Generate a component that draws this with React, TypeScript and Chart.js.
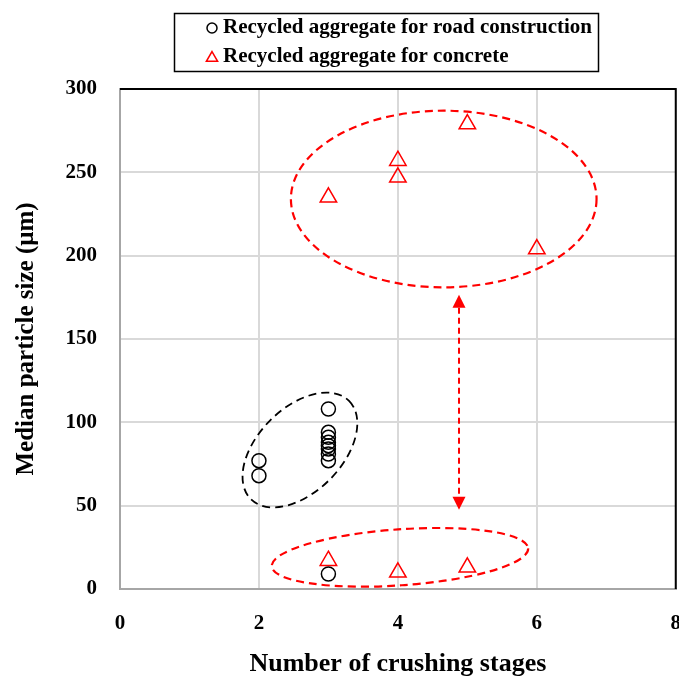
import React, { useEffect, useRef } from "react";
import { Chart, registerables } from "chart.js";

Chart.register(...registerables);

// ---- data ----
const xTickValues = [0, 2, 4, 6, 8];
const yTickValues = [0, 50, 100, 150, 200, 250, 300];

const roadStages = [2, 2, 3, 3, 3, 3, 3, 3, 3, 3, 3];
const roadSizes = [77, 68, 108, 94, 91, 88, 86, 84, 81, 77, 9];

const concreteStages = [3, 4, 4, 5, 6, 3, 4, 5];
const concreteSizes = [235, 257, 247, 279, 204, 17, 10, 13];

const seriesLabels = [
  "Recycled aggregate for road construction",
  "Recycled aggregate for concrete",
];
const xTitle = "Number of crushing stages";
const yTitle = "Median particle size (μm)";

// group outlines (data units: centre x/y, half-axes in x-units / y-units, rotation deg)
const groupCx = [4.66, 4.03, 2.59];
const groupCy = [234, 19, 83.4];
const groupRx = [2.2, 1.85, 1.0];
const groupRy = [53, 16.8, 25.2];
const groupRot = [0, -4, -45];
const groupColor = ["#ff0000", "#ff0000", "#000000"];

// double arrow between the two concrete groups
const arrowStage = 4.88;
const arrowLow = 47.5;
const arrowHigh = 176.5;

const FONT = "'Liberation Serif', 'Times New Roman', serif";

const overlayPlugin = {
  id: "overlay",
  afterDatasetsDraw(chart: any) {
    const { ctx } = chart;
    const xs = chart.scales.x;
    const ys = chart.scales.y;
    const ppx = xs.getPixelForValue(1) - xs.getPixelForValue(0);
    const ppy = ys.getPixelForValue(0) - ys.getPixelForValue(1);
    for (let i = 0; i < groupCx.length; i++) {
      ctx.save();
      ctx.beginPath();
      ctx.ellipse(
        xs.getPixelForValue(groupCx[i]),
        ys.getPixelForValue(groupCy[i]),
        groupRx[i] * ppx,
        groupRy[i] * ppy,
        (groupRot[i] * Math.PI) / 180,
        0,
        Math.PI * 2
      );
      ctx.strokeStyle = groupColor[i];
      ctx.lineWidth = groupColor[i] === "#000000" ? 1.8 : 2.2;
      ctx.setLineDash([8, 5]);
      ctx.stroke();
      ctx.restore();
    }
    // arrow
    const ax = xs.getPixelForValue(arrowStage);
    const yTop = ys.getPixelForValue(arrowHigh);
    const yBot = ys.getPixelForValue(arrowLow);
    const hh = 13;
    const hw = 6.5;
    ctx.save();
    ctx.strokeStyle = "#ff0000";
    ctx.fillStyle = "#ff0000";
    ctx.lineWidth = 2;
    ctx.setLineDash([6, 4]);
    ctx.beginPath();
    ctx.moveTo(ax, yTop + hh);
    ctx.lineTo(ax, yBot - hh);
    ctx.stroke();
    ctx.setLineDash([]);
    ctx.beginPath();
    ctx.moveTo(ax, yTop);
    ctx.lineTo(ax - hw, yTop + hh);
    ctx.lineTo(ax + hw, yTop + hh);
    ctx.closePath();
    ctx.fill();
    ctx.beginPath();
    ctx.moveTo(ax, yBot);
    ctx.lineTo(ax - hw, yBot - hh);
    ctx.lineTo(ax + hw, yBot - hh);
    ctx.closePath();
    ctx.fill();
    ctx.restore();
  },
  afterDraw(chart: any) {
    const { ctx, chartArea } = chart;
    const { left, right, top, bottom } = chartArea;
    ctx.save();
    // top & right frame in black
    ctx.strokeStyle = "#000";
    ctx.lineWidth = 2;
    ctx.beginPath();
    ctx.moveTo(left, top);
    ctx.lineTo(right, top);
    ctx.lineTo(right, bottom);
    ctx.stroke();
    ctx.restore();

    // legend box
    const bx = 174.5;
    const by = 13.5;
    const bw = 424;
    const bh = 58;
    ctx.save();
    ctx.strokeStyle = "#000";
    ctx.lineWidth = 1.5;
    ctx.strokeRect(bx, by, bw, bh);
    ctx.font = `bold 21px ${FONT}`;
    ctx.fillStyle = "#000";
    ctx.textBaseline = "middle";
    ctx.textAlign = "left";
    const rows = [28, 57];
    ctx.fillText(seriesLabels[0], 223, rows[0]);
    ctx.fillText(seriesLabels[1], 223, rows[1]);
    // markers
    ctx.lineWidth = 1.5;
    ctx.strokeStyle = "#000";
    ctx.beginPath();
    ctx.arc(212, rows[0], 5, 0, Math.PI * 2);
    ctx.stroke();
    ctx.strokeStyle = "#ff0000";
    const r = 6.5;
    const cy = rows[1] + 1;
    ctx.beginPath();
    for (let k = 0; k < 3; k++) {
      const a = (k * 2 * Math.PI) / 3;
      const px = 212 + Math.sin(a) * r;
      const py = cy - Math.cos(a) * r;
      if (k === 0) ctx.moveTo(px, py);
      else ctx.lineTo(px, py);
    }
    ctx.closePath();
    ctx.stroke();
    ctx.restore();
  },
};

export default function App() {
  const canvasRef = useRef<HTMLCanvasElement | null>(null);

  useEffect(() => {
    const canvas = canvasRef.current;
    if (!canvas) return;
    const chart = new Chart(canvas, {
      type: "scatter",
      data: {
        datasets: [
          {
            label: seriesLabels[0],
            data: roadStages.map((x, i) => ({ x, y: roadSizes[i] })),
            pointStyle: "circle",
            pointRadius: 7,
            pointBorderWidth: 1.5,
            borderColor: "#000000",
            backgroundColor: "rgba(0,0,0,0)",
          },
          {
            label: seriesLabels[1],
            data: concreteStages.map((x, i) => ({ x, y: concreteSizes[i] })),
            pointStyle: "triangle",
            pointRadius: 9.5,
            pointBorderWidth: 1.5,
            borderColor: "#ff0000",
            backgroundColor: "rgba(0,0,0,0)",
          },
        ],
      },
      options: {
        animation: false,
        responsive: false,
        maintainAspectRatio: false,
        layout: { padding: { top: 89, right: 0, left: 0, bottom: 0 } },
        plugins: {
          legend: { display: false },
          tooltip: { enabled: false },
        },
        scales: {
          x: {
            type: "linear",
            min: 0,
            max: 8,
            afterBuildTicks: (s: any) => {
              s.ticks = xTickValues.map((v) => ({ value: v }));
            },
            afterFit: (s: any) => {
              s.height = 91;
            },
            grid: { color: "#d9d9d9", lineWidth: 2, drawTicks: false },
            border: { color: "#a6a6a6", width: 2 },
            ticks: {
              padding: 22,
              color: "#000",
              font: { family: FONT, size: 21, weight: "bold" },
            },
            title: {
              display: true,
              text: xTitle,
              color: "#000",
              padding: { top: 0, bottom: 0 },
              font: { family: FONT, size: 26, weight: "bold" },
            },
          },
          y: {
            type: "linear",
            min: 0,
            max: 300,
            afterBuildTicks: (s: any) => {
              s.ticks = yTickValues.map((v) => ({ value: v }));
            },
            afterFit: (s: any) => {
              s.width = 120;
            },
            grid: { color: "#d9d9d9", lineWidth: 2, drawTicks: false },
            border: { color: "#a6a6a6", width: 2 },
            ticks: {
              padding: 23,
              color: "#000",
              font: { family: FONT, size: 21, weight: "bold" },
            },
            title: {
              display: true,
              text: yTitle,
              color: "#000",
              padding: { top: 12, bottom: 0 },
              font: { family: FONT, size: 25, weight: "bold" },
            },
          },
        },
      },
      plugins: [overlayPlugin],
    } as any);
    return () => chart.destroy();
  }, []);

  return (
    <div
      style={{
        position: "absolute",
        left: 0,
        top: 0,
        width: 679,
        height: 680,
        overflow: "hidden",
        background: "#fff",
      }}
    >
      <canvas ref={canvasRef} width={703} height={680} style={{ display: "block" }} />
    </div>
  );
}
